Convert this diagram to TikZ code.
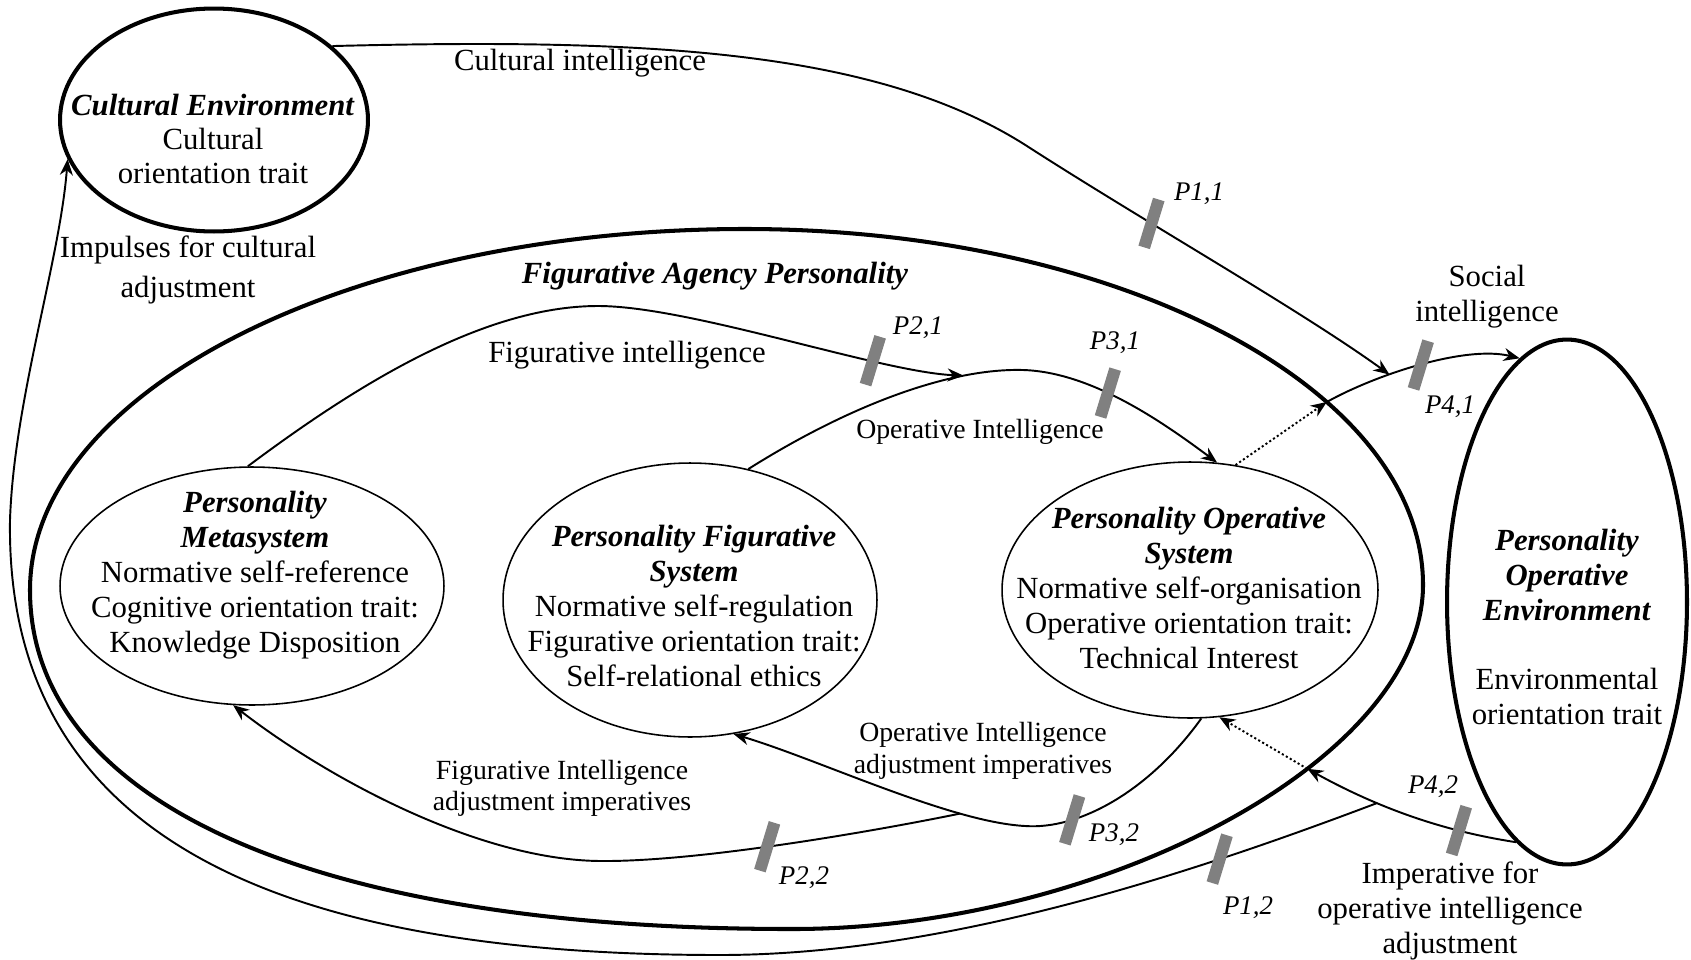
\documentclass[tikz,border=0pt]{standalone}
\usepackage{fontspec}
\setmainfont{Liberation Serif}
\usetikzlibrary{arrows.meta, shapes.geometric}
\definecolor{tickgray}{HTML}{808080}
\tikzset{
    envshape/.style={draw, ellipse, line width=2.3pt, inner sep=0pt},
    sysshape/.style={draw, ellipse, line width=0.9pt, inner sep=0pt},
    outline/.style={line width=2.3pt},
    flow/.style={-{Stealth[length=3.2mm, width=2.6mm]}, line width=1.1pt},
    dotflow/.style={flow, dash pattern=on 1.2pt off 1.4pt},
    tick/.style={rectangle, fill=tickgray, inner sep=0pt, minimum width=0.24cm, minimum height=1cm, rotate=-17},
    bigtext/.style={align=center, font=\fontsize{17.5}{19.9}\selectfont, inner sep=0pt},
    smalltext/.style={align=center, font=\fontsize{15.8}{18.2}\selectfont, inner sep=0pt},
    plabel/.style={font=\fontsize{15.3}{18}\selectfont\itshape, inner sep=0pt}
}

\begin{document}
\begin{tikzpicture}[x=0.02cm, y=0.02cm]
    \useasboundingbox (0,0) rectangle (1691,-960);

    % environments
    \node[envshape, minimum width=6.16cm, minimum height=4.46cm] (culture) at (214,-120) {};
    \node[envshape, minimum width=4.8cm, minimum height=10.5cm] (openv) at (1567,-602) {};

    % figurative agency personality
    \draw[outline] (745,-229)
        .. controls (1119,-229) and (1423,-388) .. (1423,-585) coordinate[pos=.66] (fapne)
        .. controls (1423,-760) and (1100,-930) .. (790,-929) coordinate[pos=.37] (fapse)
        .. controls (307,-929) and (30,-800) .. (30,-590)
        .. controls (30,-391) and (350,-229) .. (745,-229) -- cycle;

    % personality systems
    \node[sysshape, minimum width=7.68cm, minimum height=4.76cm] (meta) at (252,-586) {};
    \node[sysshape, minimum width=7.48cm, minimum height=5.48cm] (figsys) at (690,-600) {};
    \node[sysshape, minimum width=7.52cm, minimum height=5.12cm] (opsys) at (1190,-590) {};

    \node[bigtext, font=\fontsize{17.5}{19.4}\selectfont] (culturetext) at (213,-139)
        {\textbf{\textit{Cultural Environment}}\\Cultural\\orientation trait};
    \node[bigtext] (metatext) at (255,-575)
        {\textbf{\textit{Personality}}\\\textbf{\textit{Metasystem}}\\Normative self-reference\\Cognitive orientation trait:\\Knowledge Disposition};
    \node[bigtext] (figsystext) at (694,-606)
        {\textbf{\textit{Personality Figurative}}\\\textbf{\textit{System}}\\Normative self-regulation\\Figurative orientation trait:\\Self-relational ethics};
    \node[bigtext] (opsystext) at (1189,-588)
        {\textbf{\textit{Personality Operative}}\\\textbf{\textit{System}}\\Normative self-organisation\\Operative orientation trait:\\Technical Interest};
    \node[bigtext] (openvtext) at (1567,-627)
        {\textbf{\textit{Personality}}\\\textbf{\textit{Operative}}\\\textbf{\textit{Environment}}\\[19.9pt]Environmental\\orientation trait};

    \node[bigtext] (fapname) at (715,-276) {\textbf{\textit{Figurative Agency Personality}}};
    \node[bigtext] (cultint) at (580,-63) {Cultural intelligence};
    \node[bigtext, font=\fontsize{17.5}{22.8}\selectfont] (impulses) at (188,-270) {Impulses for cultural\\adjustment};
    \node[bigtext] (socint) at (1487,-297) {Social\\intelligence};
    \node[bigtext] (figint) at (627,-355) {Figurative intelligence};
    \node[smalltext] (opint) at (980,-432) {Operative Intelligence};
    \node[smalltext] (opadj) at (983,-751) {Operative Intelligence\\adjustment imperatives};
    \node[smalltext, font=\fontsize{15.8}{17.7}\selectfont] (figadj) at (562,-788) {Figurative Intelligence\\adjustment imperatives};
    \node[bigtext] (impadj) at (1450,-911) {Imperative for\\operative intelligence\\adjustment};

    \node[plabel] (p11) at (1199,-194) {P1,1};
    \node[plabel] (p21) at (918,-328) {P2,1};
    \node[plabel] (p31) at (1115,-343) {P3,1};
    \node[plabel] (p41) at (1450,-407) {P4,1};
    \node[plabel] (p22) at (804,-878) {P2,2};
    \node[plabel] (p32) at (1114,-835) {P3,2};
    \node[plabel] (p12) at (1248,-908) {P1,2};
    \node[plabel] (p42) at (1433,-787) {P4,2};

    % intelligence flows
    \draw[dotflow] (opsys.70) -- (fapne);
    \draw[flow] (fapne) .. controls (1375,-375) and (1465,-345) .. (openv.101)
        node[tick, pos=.5] (t41) {} coordinate[pos=.35] (socjoin);
    \draw[flow] (culture.32) .. controls (650,-38) and (880,-50) .. (1030,-148)
        .. controls (1150,-225) and (1300,-310) .. (socjoin) node[tick, pos=.32] (t11) {};
    \draw[flow] (figsys.66) .. controls (850,-405) and (950,-368) .. (1023,-370) coordinate[pos=.75] (fimeet)
        .. controls (1090,-372) and (1160,-420) .. (opsys.78) node[tick, pos=.42] (t31) {};
    \draw[flow] (meta.92) .. controls (350,-390) and (480,-306) .. (598,-306)
        .. controls (690,-306) and (880,-372) .. (fimeet) node[tick, pos=.72] (t21) {};

    % adjustment imperatives
    \draw[flow] (opsys.275) .. controls (1150,-790) and (1080,-830) .. (1025,-826) node[tick, pos=.73] (t32) {}
        .. controls (950,-822) and (820,-760) .. (figsys.288) coordinate[pos=.25] (oajoin);
    \draw[flow] (oajoin) .. controls (880,-830) and (700,-862) .. (600,-861) node[tick, pos=.55] (t22) {}
        .. controls (480,-860) and (330,-780) .. (meta.261);
    \draw[flow] (openv.258) .. controls (1470,-835) and (1400,-820) .. (fapse)
        node[tick, pos=.35] (t42) {} coordinate[pos=.73] (p12start);
    \draw[dotflow] (fapse) -- (opsys.283);
    \draw[flow] (p12start) .. controls (1200,-870) and (950,-955) .. (720,-955) node[tick, pos=.27] (t12) {}
        .. controls (300,-955) and (5,-850) .. (10,-520)
        .. controls (14,-400) and (60,-260) .. (culture.195);
\end{tikzpicture}
\end{document}
